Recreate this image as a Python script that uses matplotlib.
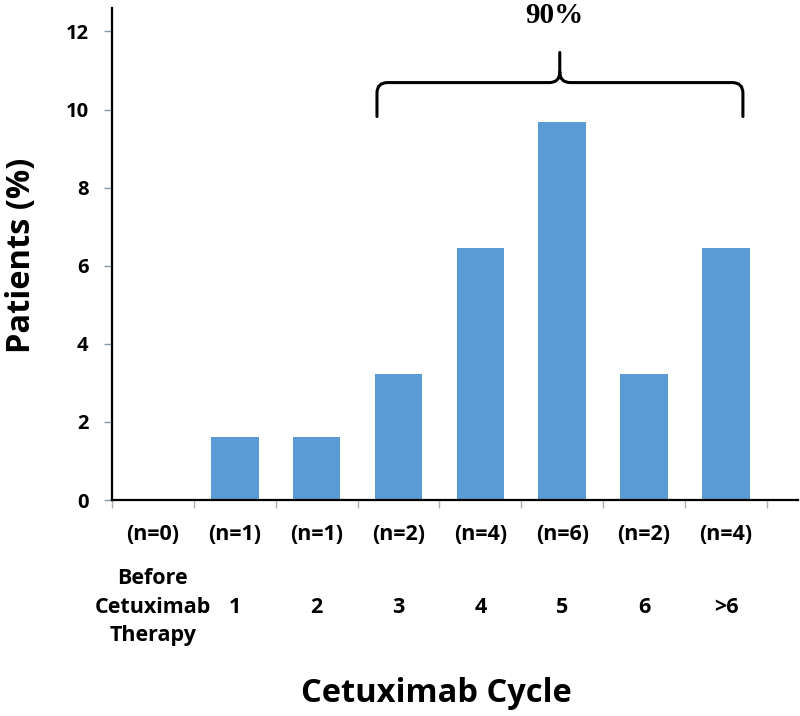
import matplotlib
matplotlib.use("Agg")
import matplotlib.pyplot as plt
from matplotlib.path import Path
from matplotlib.patches import PathPatch

categories = ["Before\nCetuximab\nTherapy", "1", "2", "3", "4", "5", "6", ">6"]
counts = ["(n=0)", "(n=1)", "(n=1)", "(n=2)", "(n=4)", "(n=6)", "(n=2)", "(n=4)"]
patients_pct = [0.0, 1.61, 1.61, 3.23, 6.45, 9.68, 3.23, 6.45]
yticks = [0, 2, 4, 6, 8, 10, 12]
bracket_label = "90%"

SANS = "Open Sans"
BAR_COLOR = "#5B9BD5"

fig = plt.figure(figsize=(8.0, 7.16), dpi=100)
ax = fig.add_axes([112 / 800, 216 / 716, 686 / 800, 492 / 716])

x = list(range(len(categories)))
ax.bar(x, patients_pct, width=0.58, color=BAR_COLOR, zorder=2)

ax.set_xlim(-0.5, 7.88)
ax.set_ylim(0, 12.6)

for s in ["top", "right"]:
    ax.spines[s].set_visible(False)
ax.spines["left"].set_linewidth(1.6)
ax.spines["bottom"].set_linewidth(1.6)
ax.spines["left"].set_zorder(3)
ax.spines["bottom"].set_zorder(3)

ax.set_yticks(yticks)
ax.set_yticklabels([str(v) for v in yticks], fontfamily=SANS, fontweight="bold", fontsize=14.5)
ax.tick_params(axis="y", direction="out", length=6, width=1, color="#8a9aa8", pad=11)

ax.set_xticks([i - 0.5 for i in range(len(categories) + 1)])
ax.set_xticklabels([])
ax.tick_params(axis="x", direction="out", length=6, width=1, color="#b0b0b0")

xt = ax.get_xaxis_transform()
for i, (c, n) in enumerate(zip(categories, counts)):
    ax.text(i, -0.0711, n, transform=xt, ha="center", va="center",
            fontfamily=SANS, fontweight="bold", fontsize=15.5)
    ax.text(i, -0.2175, c, transform=xt, ha="center", va="center",
            fontfamily=SANS, fontweight="bold", fontsize=15.5, linespacing=1.45)

# brace spanning cycles 3 .. >6
x0, x1, xc = 2.737, 7.207, 4.97
yb, yh, yt = 9.82, 10.69, 11.46
rx, ry = 0.13, 0.27
verts = [
    (x0, yb), (x0, yh - ry), (x0, yh), (x0 + rx, yh), (xc - rx, yh), (xc, yh), (xc, yh + ry), (xc, yt),
    (x1, yb), (x1, yh - ry), (x1, yh), (x1 - rx, yh), (xc + rx, yh), (xc, yh), (xc, yh + ry),
]
codes = [
    Path.MOVETO, Path.LINETO, Path.CURVE3, Path.CURVE3, Path.LINETO, Path.CURVE3, Path.CURVE3, Path.LINETO,
    Path.MOVETO, Path.LINETO, Path.CURVE3, Path.CURVE3, Path.LINETO, Path.CURVE3, Path.CURVE3,
]
ax.add_patch(PathPatch(Path(verts, codes), fill=False, lw=2.2, edgecolor="black",
                       capstyle="round", joinstyle="round", clip_on=False, zorder=4))
ax.text(xc - 0.06, 12.42, bracket_label, ha="center", va="center",
        fontfamily="Liberation Serif", fontweight="bold", fontsize=21, clip_on=False)

fig.text(436 / 800, 1 - 694 / 716, "Cetuximab Cycle", ha="center", va="center",
         fontfamily=SANS, fontweight="bold", fontsize=23.5)
fig.text(22 / 800, 1 - 255 / 716, "Patients (%)", ha="center", va="center", rotation=90,
         fontfamily=SANS, fontweight="bold", fontsize=23.5)

fig.savefig("out.png", dpi=100, facecolor="white")
